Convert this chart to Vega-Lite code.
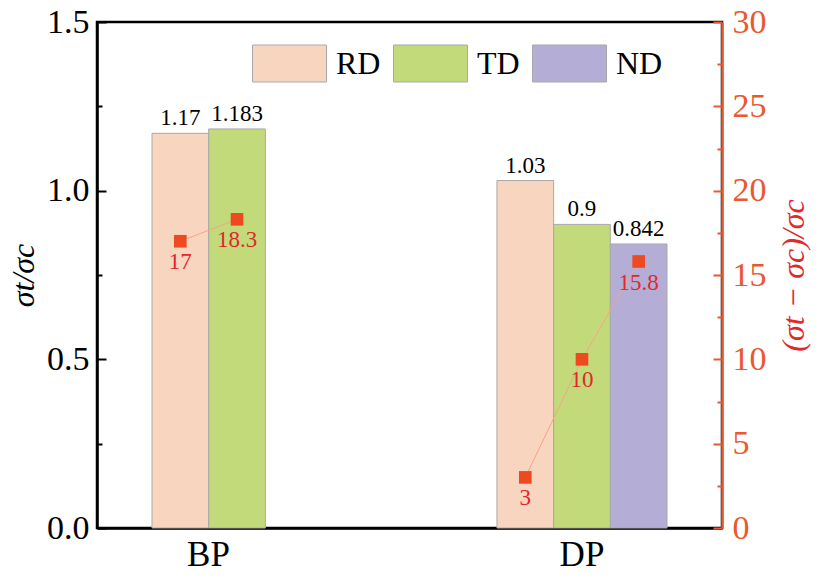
{
  "$schema": "https://vega.github.io/schema/vega-lite/v6.json",
  "width": 625,
  "height": 506,
  "autosize": {"type": "none"},
  "padding": {"left": 97, "top": 22, "right": 110, "bottom": 51},
  "config": {
    "font": "Liberation Serif",
    "text": {"font": "Liberation Serif"},
    "view": {"stroke": "#000000", "strokeWidth": 2.5},
    "axis": {
      "grid": false,
      "domainWidth": 2.5,
      "domainColor": "#000000",
      "tickColor": "#000000",
      "tickWidth": 2,
      "labelColor": "#000000",
      "labelFont": "Liberation Serif",
      "titleFont": "Liberation Serif",
      "labelFontSize": 34,
      "titleFontSize": 32,
      "titleFontWeight": "normal",
      "titleFontStyle": "italic",
      "titleColor": "#000000"
    }
  },
  "data": {
    "values": [
      {"group": "BP", "dir": "RD", "value": 1.17, "ratio": 17},
      {"group": "BP", "dir": "TD", "value": 1.183, "ratio": 18.3},
      {"group": "DP", "dir": "RD", "value": 1.03, "ratio": 3},
      {"group": "DP", "dir": "TD", "value": 0.9, "ratio": 10},
      {"group": "DP", "dir": "ND", "value": 0.842, "ratio": 15.8}
    ]
  },
  "encoding": {
    "x": {
      "field": "group",
      "type": "nominal",
      "scale": {"domain": ["BP", "DP"], "paddingInner": 0.507, "paddingOuter": 0.1594},
      "axis": {
        "title": null,
        "labelAngle": 0,
        "ticks": false,
        "labelPadding": 9,
        "labelFontSize": 35,
        "labelOffset": {"condition": {"test": "datum.value === 'BP'", "value": -28.5}, "value": 0}
      }
    },
    "xOffset": {"field": "dir", "type": "nominal", "scale": {"domain": ["RD", "TD", "ND"]}}
  },
  "layer": [
    {
      "layer": [
        {
          "mark": {"type": "bar", "stroke": "#a9a9a9", "strokeWidth": 1},
          "encoding": {
            "y": {
              "field": "value",
              "type": "quantitative",
              "scale": {"domain": [0, 1.5], "nice": false},
              "axis": {
                "title": "σt/σc",
                "values": [0, 0.25, 0.5, 0.75, 1, 1.25, 1.5],
                "labelExpr": "datum.value % 0.5 === 0 ? format(datum.value, '.1f') : ''",
                "tickSize": {"condition": {"test": "datum.value % 0.5 === 0", "value": -9}, "value": -5},
                "labelPadding": 17,
                "titlePadding": 6
              }
            },
            "color": {
              "field": "dir",
              "type": "nominal",
              "scale": {"domain": ["RD", "TD", "ND"], "range": ["#f8d5be", "#c3da7a", "#b4add5"]},
              "legend": {
                "title": null,
                "orient": "none",
                "legendX": 155,
                "legendY": 4,
                "direction": "horizontal",
                "columns": 3,
                "padding": 0,
                "symbolType": "M-1,-0.5H1V0.5H-1Z",
                "symbolSize": 5476,
                "symbolStrokeColor": "#a9a9a9",
                "symbolStrokeWidth": 1,
                "symbolOpacity": 1,
                "labelFont": "Liberation Serif",
                "labelFontSize": 32,
                "labelColor": "#000000",
                "labelOffset": 9,
                "columnPadding": 10
              }
            }
          }
        },
        {
          "mark": {"type": "text", "baseline": "bottom", "dy": -3, "fontSize": 23, "color": "#000000"},
          "encoding": {
            "y": {"field": "value", "type": "quantitative", "scale": {"domain": [0, 1.5], "nice": false}},
            "text": {"field": "value", "type": "quantitative", "format": "~g"}
          }
        }
      ]
    },
    {
      "layer": [
        {
          "mark": {"type": "line", "color": "#f6a487", "strokeWidth": 1},
          "encoding": {
            "y": {
              "field": "ratio",
              "type": "quantitative",
              "scale": {"domain": [0, 30], "nice": false},
              "axis": {
                "orient": "right",
                "title": "(σt − σc)/σc",
                "titleColor": "#e02a2a",
                "titleAngle": 270,
                "titlePadding": 44,
                "domainColor": "#e9582e",
                "tickColor": "#e9582e",
                "labelColor": "#e9582e",
                "values": [0, 2.5, 5, 7.5, 10, 12.5, 15, 17.5, 20, 22.5, 25, 27.5, 30],
                "labelExpr": "datum.value % 5 === 0 ? format(datum.value, 'd') : ''",
                "tickSize": {"condition": {"test": "datum.value % 5 === 0", "value": -9}, "value": -5},
                "labelPadding": 19
              }
            },
            "detail": {"field": "group"},
            "order": {"value": null}
          }
        },
        {
          "mark": {"type": "square", "color": "#ee4a22", "size": 160, "opacity": 1},
          "encoding": {
            "y": {"field": "ratio", "type": "quantitative"}
          }
        },
        {
          "mark": {"type": "text", "baseline": "top", "dy": 10, "fontSize": 23, "color": "#e0282a"},
          "encoding": {
            "y": {"field": "ratio", "type": "quantitative"},
            "text": {"field": "ratio", "type": "quantitative", "format": "~g"}
          }
        }
      ]
    }
  ],
  "resolve": {"scale": {"y": "independent"}}
}
